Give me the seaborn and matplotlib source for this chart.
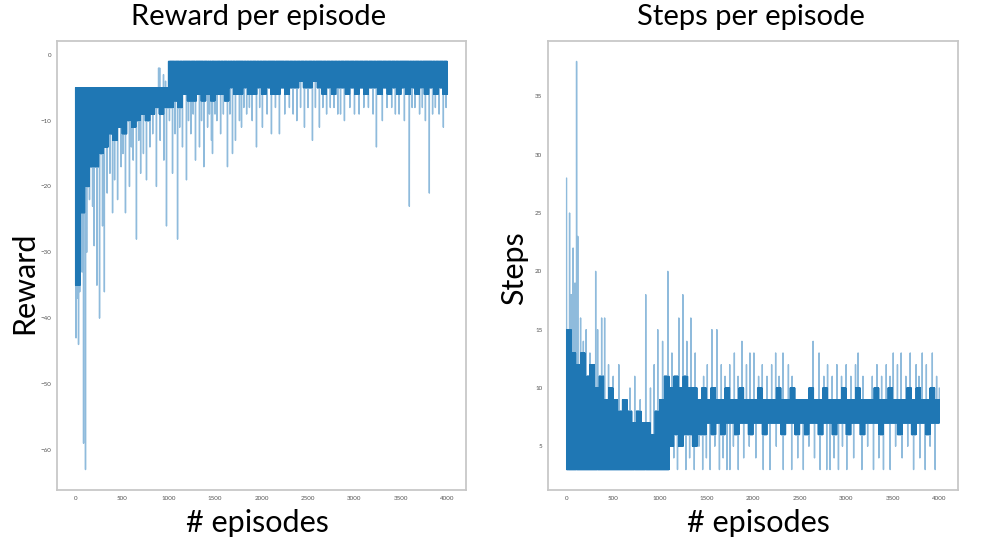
import numpy as np
import pandas as pd
import matplotlib
matplotlib.use("Agg")
import matplotlib.pyplot as plt
import seaborn as sns

# number of training episodes
n_episodes = 4000
block_size = 50

# reward: dense band per 50-episode block (upper / lower edge)
reward_band_hi = [-5] * 20 + [-1] * 60
reward_band_lo = [-35, -24, -20, -17, -17, -15, -14, -12, -13, -11,
                  -12, -10, -11, -10, -9, -10, -9, -8, -9, -8,
                  -8, -7, -8, -6, -7, -7, -6, -7, -6, -7,
                  -6, -6, -7, -5, -6, -6, -5, -6, -6, -5,
                  -6, -5, -6, -6, -5, -6, -5, -5, -4, -5,
                  -5, -4, -5, -6, -5, -6, -5, -5, -6, -5,
                  -6, -5, -6, -5, -5, -6, -5, -6, -5, -6,
                  -5, -6, -5, -6, -5, -6, -5, -6, -5, -6]

# reward: single spikes
reward_dip_ep = [5, 20, 32, 45, 64, 70, 86, 107, 120, 150, 183, 200, 230, 258, 290,
                 310, 340, 370, 398, 420, 452, 490, 510, 537, 580, 600, 620, 655, 680,
                 700, 730, 763, 800, 830, 870, 910, 950, 978, 1010, 1043, 1070, 1097,
                 1120, 1150, 1193, 1215, 1240, 1265, 1290, 1333, 1355, 1380, 1420,
                 1440, 1462, 1473, 1500, 1520, 1560, 1590, 1634, 1660, 1688, 1720,
                 1763, 1785, 1810, 1840, 1870, 1900, 1946, 1980, 2010, 2060, 2107,
                 2150, 2193, 2250, 2300, 2340, 2380, 2420, 2462, 2500, 2548, 2580,
                 2623, 2660, 2700, 2740, 2780, 2820, 2850, 2892, 2950, 3000, 3050,
                 3100, 3150, 3200, 3236, 3300, 3350, 3400, 3440, 3480, 3537, 3590,
                 3620, 3650, 3700, 3730, 3763, 3805, 3840, 3870, 3910, 3956, 3985]
reward_dip_val = [-43, -37, -44, -36, -26, -33, -59, -63, -30, -22, -23, -29, -35, -40, -26,
                  -36, -21, -18, -24, -19, -22, -17, -15, -24, -20, -14, -16, -28, -13,
                  -18, -15, -19, -14, -12, -20, -13, -16, -26, -10, -18, -12, -28,
                  -11, -14, -19, -10, -12, -9, -16, -14, -10, -17, -11,
                  -9, -13, -15, -9, -10, -12, -9, -17, -9, -15, -13,
                  -10, -11, -8, -9, -8, -10, -14, -8, -11, -9, -12,
                  -8, -12, -9, -8, -9, -10, -8, -11, -8, -13, -8,
                  -11, -8, -9, -8, -8, -9, -9, -10, -8, -9, -9,
                  -8, -8, -9, -14, -10, -8, -8, -9, -9, -10, -23,
                  -8, -8, -9, -8, -10, -21, -9, -8, -9, -11, -8]
reward_peak_ep = [893, 905, 946, 968]
reward_peak_val = [-2, -2, -3, -4]

# steps: dense band per 50-episode block
steps_band_hi = [15, 13, 12, 13, 11, 12, 10, 11, 9, 10,
                 9, 8, 9, 8, 7, 8, 7, 7, 6, 8,
                 9, 11, 10, 11, 10, 11, 10, 10, 9, 10,
                 9, 10, 9, 9, 10, 9, 9, 10, 9, 9,
                 9, 10, 9, 9, 9, 10, 9, 9, 10, 9,
                 9, 9, 10, 9, 9, 10, 9, 9, 9, 10,
                 9, 9, 10, 9, 9, 9, 10, 9, 9, 10,
                 9, 9, 9, 10, 9, 10, 9, 9, 10, 9]
steps_band_lo = [3] * 22 + [5, 6, 5, 6, 6, 5, 6, 6,
                            7, 6, 7, 6, 7, 7, 6, 7, 7, 6,
                            7, 7, 6, 7, 7, 7, 6, 7, 7, 6,
                            7, 6, 7, 7, 6, 7, 7, 6, 7, 7,
                            6, 7, 7, 6, 7, 7, 7, 6, 7, 7,
                            7, 6, 7, 7, 6, 7, 7, 6, 7, 7]

steps_peak_ep = [0, 15, 32, 50, 70, 90, 107, 120, 150, 180, 210, 250, 312, 333, 376,
                 408, 450, 500, 560, 620, 680, 731, 790, 849, 900, 940, 978, 1030,
                 1086, 1130, 1204, 1247, 1290, 1333, 1380, 1420, 1470, 1510, 1559,
                 1612, 1660, 1700, 1750, 1800, 1840, 1881, 1930, 1967, 2010, 2060,
                 2100, 2150, 2200, 2243, 2280, 2322, 2380, 2420, 2480, 2540, 2600,
                 2645, 2709, 2760, 2800, 2850, 2900, 2950, 3000, 3050, 3100, 3128,
                 3180, 3230, 3280, 3330, 3380, 3430, 3470, 3505, 3550, 3590, 3640,
                 3687, 3750, 3780, 3816, 3860, 3900, 3924, 3970, 3999]
steps_peak_val = [28, 15, 25, 18, 22, 19, 38, 23, 16, 14, 15, 13, 20, 15, 16,
                  16, 12, 11, 12, 9, 10, 11, 9, 18, 10, 12, 15, 14,
                  20, 13, 16, 18, 14, 16, 13, 12, 11, 12, 15,
                  15, 12, 11, 12, 13, 11, 14, 12, 13, 13, 11,
                  12, 11, 12, 13, 11, 13, 12, 11, 12, 11, 12,
                  14, 13, 11, 12, 11, 12, 11, 12, 11, 12, 13,
                  11, 12, 11, 12, 11, 12, 11, 13, 12, 13, 11,
                  13, 12, 11, 13, 12, 11, 13, 11, 10]
steps_dip_ep = [1100, 1150, 1190, 1230, 1280, 1320, 1370, 1420, 1460, 1500, 1540,
                1590, 1640, 1680, 1720, 1752, 1790, 1842, 1900, 1960, 2030, 2110,
                2182, 2250, 2325, 2415, 2480, 2540, 2600, 2660, 2720, 2791, 2827,
                2870, 2917, 2960, 3006, 3080, 3168, 3230, 3293, 3350, 3400, 3472,
                3530, 3600, 3660, 3723, 3790, 3848, 3900, 3955]
steps_dip_val = [3, 4, 3, 5, 3, 4, 3, 5, 3, 4, 3,
                 5, 3, 4, 3, 3, 5, 3, 4, 5, 4, 3,
                 3, 5, 3, 3, 4, 3, 5, 4, 3, 3, 3,
                 4, 3, 5, 3, 4, 3, 5, 3, 4, 3, 3,
                 5, 4, 5, 3, 4, 3, 5, 3]


def build_series(band_hi, band_lo, spike_ep, spike_val):
    """Band drawn as up/down swings inside each block; spikes kept separately"""
    ep = np.arange(n_episodes)
    block = ep // block_size
    hi = np.array(band_hi, dtype=float)[block]
    lo = np.array(band_lo, dtype=float)[block]
    band = np.where(ep % 2 == 0, hi, lo)
    full = band.copy()
    for e, v in zip(spike_ep, spike_val):
        full[e] = v
    return pd.DataFrame({"episode": ep, "value": full, "band": band})


reward_df = build_series(reward_band_hi, reward_band_lo,
                         reward_dip_ep + reward_peak_ep, reward_dip_val + reward_peak_val)
steps_df = build_series(steps_band_hi, steps_band_lo,
                        steps_peak_ep + steps_dip_ep, steps_peak_val + steps_dip_val)

sns.set_style("white")
plt.rcParams["font.family"] = ["Lato", "DejaVu Sans"]

fig = plt.figure(figsize=(9.82, 5.46), dpi=100)
ax_r = fig.add_axes([0.058, 0.1026, 0.4165, 0.8223])
ax_s = fig.add_axes([0.558, 0.1026, 0.4175, 0.8223])

for ax, df in [(ax_r, reward_df), (ax_s, steps_df)]:
    # single episodes show up as thin pale strokes, the dense band as solid blue
    sns.lineplot(data=df, x="episode", y="value", ax=ax, estimator=None,
                 color="#8fbbdc", linewidth=1.0)
    sns.lineplot(data=df, x="episode", y="band", ax=ax, estimator=None,
                 color="#1f77b4", linewidth=0.6)
    ax.set_xlabel("")
    ax.set_ylabel("")
    ax.set_xticks(np.arange(0, 4001, 500))
    ax.tick_params(labelsize=4.5, colors="#555555", length=0, pad=4)
    for sp in ax.spines.values():
        sp.set_color("#c8c8c8")
        sp.set_linewidth(1.3)

ax_r.set_yticks(np.arange(-60, 1, 10))
ax_s.set_yticks(np.arange(5, 36, 5))

# big labels added around the panels
fig.text(0.263, 0.968, "Reward per episode", ha="center", va="center", fontsize=21, color="black")
fig.text(0.765, 0.968, "Steps per episode", ha="center", va="center", fontsize=21, color="black")
fig.text(0.025, 0.483, "Reward", ha="center", va="center", rotation=90, fontsize=22, color="black")
fig.text(0.523, 0.509, "Steps", ha="center", va="center", rotation=90, fontsize=22, color="black")
fig.text(0.262, 0.042, "# episodes", ha="center", va="center", fontsize=22, color="black")
fig.text(0.772, 0.042, "# episodes", ha="center", va="center", fontsize=22, color="black")

fig.savefig("out.png", dpi=100, facecolor="white")
